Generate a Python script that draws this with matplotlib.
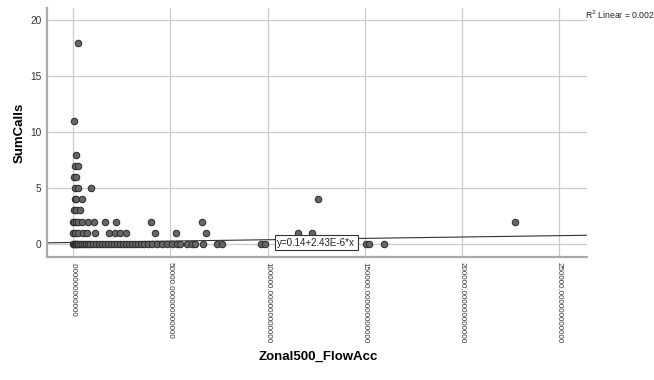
import numpy as np
import matplotlib.pyplot as plt
import matplotlib
matplotlib.rcParams.update({'font.family': 'Liberation Sans'})

# Zonal500_FlowAcc values grouped by SumCalls level
x_calls0 = [0, 500, 1000, 1500, 2100, 2600, 3600, 4600, 5700, 6700, 7700, 8700,
            10300, 11800, 13400, 14900, 16400, 18000, 19500, 21100, 22600, 24200,
            25700, 27200, 28800, 30300, 31900, 33400, 35000, 36500, 38600, 40600,
            43200, 45700, 48300, 50900, 53500, 55000, 58600, 61200, 62700, 66800,
            74000, 76600, 96600, 98700, 150600, 152200, 159900]
x_calls1 = [0, 1000, 2600, 5100, 7200, 11300, 18500, 21600, 24200, 27200, 42100,
            52900, 68400, 115700, 122800]
x_calls2 = [0, 500, 1500, 2600, 4600, 7700, 10800, 16400, 22100, 40100, 66300, 227200]
x_calls3 = [200, 1500, 3600]
x_calls4 = [700, 1500, 4500, 125700]
x_calls5 = [1000, 2700, 9300]
x_calls6 = [500, 1500]
x_calls7 = [700, 2700]
x_calls8 = [1500]
x_calls11 = [500]
x_calls18 = [2400]

groups = {0: x_calls0, 1: x_calls1, 2: x_calls2, 3: x_calls3, 4: x_calls4,
          5: x_calls5, 6: x_calls6, 7: x_calls7, 8: x_calls8, 11: x_calls11,
          18: x_calls18}

intercept = 0.14
slope = 2.43e-6
r2 = 0.002

x_ticks = [0, 50000, 100000, 150000, 200000, 250000]
x_ticklabels = ['.000000000000', '50000.000000000000', '100000.000000000000',
                '150000.000000000000', '200000.000000000000', '250000.000000000000']
y_ticks = [0, 5, 10, 15, 20]

fig = plt.figure(figsize=(6.54, 3.80), dpi=100)
ax = fig.add_axes([0.072, 0.324, 0.826, 0.655])

xs = np.concatenate([np.array(v, dtype=float) for v in groups.values()])
ys = np.concatenate([np.full(len(v), k, dtype=float) for k, v in groups.items()])

ax.set_xlim(-13400, 264400)
ax.set_ylim(-1.15, 21.1)

ax.grid(True, color='#cccccc', linewidth=0.9, zorder=0)
ax.set_axisbelow(True)

xl = np.array(ax.get_xlim())
ax.plot(xl, intercept + slope * xl, color='#333333', linewidth=0.8, zorder=2)

ax.scatter(xs, ys, s=22, facecolor='#666666', edgecolor='#2a2a2a',
           linewidth=0.7, zorder=3)

ax.text(105000, 0.1, 'y=0.14+2.43E-6*x', fontsize=7, ha='left', va='center',
        color='#222222', zorder=4,
        bbox=dict(boxstyle='square,pad=0.25', facecolor='white',
                  edgecolor='#333333', linewidth=0.8))

ax.set_xticks(x_ticks)
ax.set_xticklabels(x_ticklabels, rotation=270, fontsize=5.8, color='#333333',
                   va='top', ha='center')
ax.set_yticks(y_ticks)
ax.set_yticklabels([str(v) for v in y_ticks], fontsize=7.3, color='#333333')
ax.tick_params(length=0, pad=4)

for s in ['top', 'right']:
    ax.spines[s].set_visible(False)
for s in ['left', 'bottom']:
    ax.spines[s].set_color('#aaaaaa')
    ax.spines[s].set_linewidth(1.6)

ax.set_ylabel('SumCalls', fontsize=9.5, fontweight='bold', labelpad=3)
fig.text(0.486, 0.06, 'Zonal500_FlowAcc', fontsize=9.5, fontweight='bold',
         ha='center', va='center')
fig.text(0.895, 0.962, r'R$^2$ Linear = %.3f' % r2, fontsize=6.2,
         ha='left', va='center', color='#222222')

fig.savefig('out.png', dpi=100)
